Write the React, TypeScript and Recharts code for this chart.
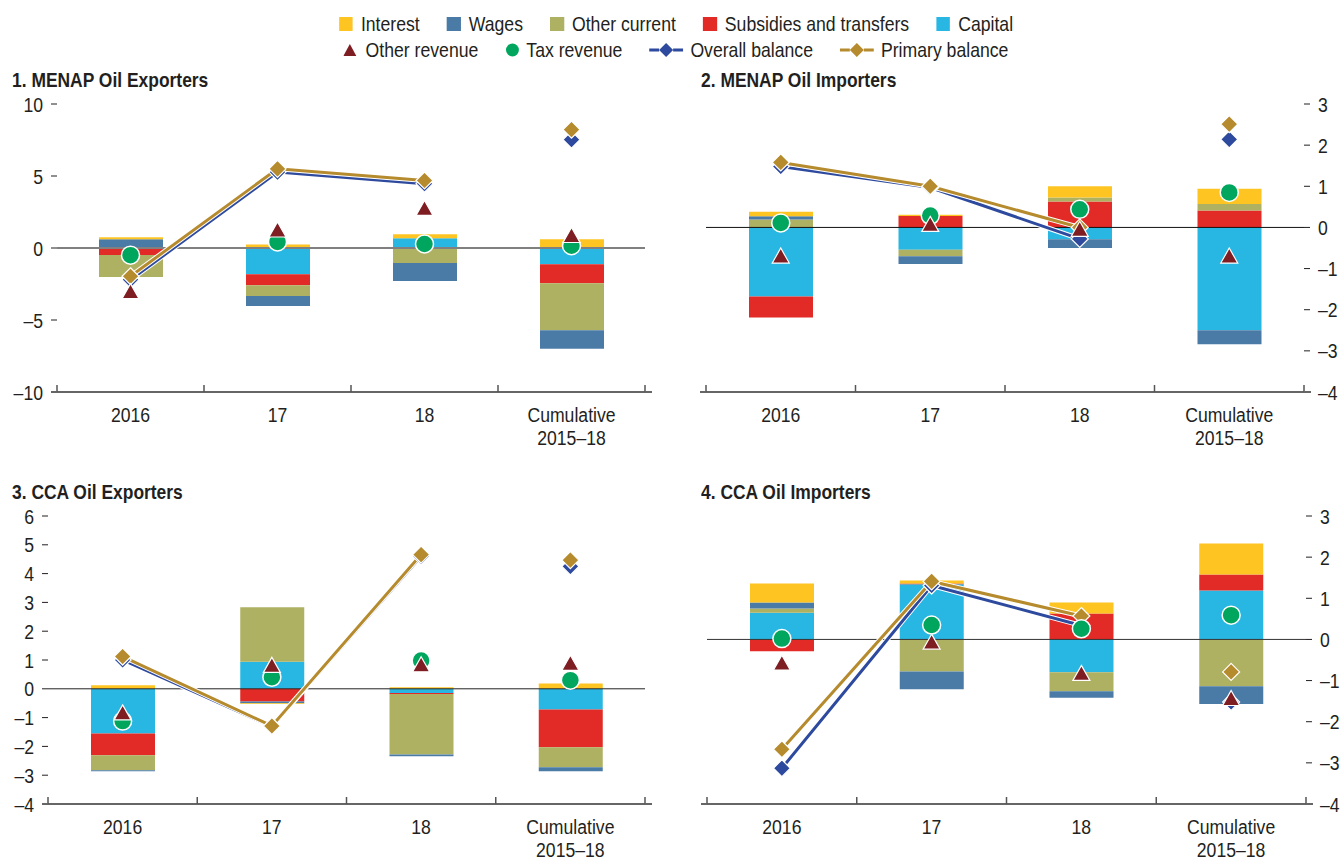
import React from 'react';
import {
  ComposedChart,
  Bar,
  Line,
  XAxis,
  YAxis,
  ReferenceLine,
} from 'recharts';

// the source uses a condensed face; Liberation Sans squeezed horizontally stands in for it
const FONT = '"Liberation Sans", Arial, sans-serif';
const SQUEEZE = 0.84;
const INK = '#231f20';

const COLORS = {
  interest: '#FDC422',
  wages: '#4A7BA7',
  otherCurrent: '#AFB162',
  subsidies: '#E22A26',
  capital: '#28B7E2',
  otherRevenue: '#7E1E23',
  tax: '#00A65D',
  overall: '#2D4A9E',
  primary: '#B68B2E',
};

const CATEGORIES = ['2016', '17', '18', 'Cumulative\n2015–18'];

// 1. MENAP Oil Exporters
const p1Interest = [0.14, 0.25, 0.28, 0.6];
const p1Wages = [0.6, -0.69, -1.25, -1.29];
const p1OtherCurrent = [-1.52, -0.76, -1.0, -3.26];
const p1Subsidies = [-0.49, -0.76, -0.05, -1.32];
const p1Capital = [0, -1.82, 0.67, -1.13];
const p1OtherRevenue = [-3.1, 1.18, 2.68, 0.8];
const p1TaxRevenue = [-0.5, 0.42, 0.28, 0.16];
const p1Overall = [-2.2, 5.27, 4.46, 7.53];
const p1Primary = [-1.96, 5.5, 4.69, 8.22];

// 2. MENAP Oil Importers
const p2Interest = [0.11, 0.03, 0.27, 0.37];
const p2Wages = [0.08, -0.19, -0.21, -0.34];
const p2OtherCurrent = [0.19, -0.16, 0.1, 0.16];
const p2Subsidies = [-0.51, 0.28, 0.63, 0.41];
const p2Capital = [-1.68, -0.54, -0.29, -2.5];
const p2OtherRevenue = [-0.72, 0.05, -0.07, -0.72];
const p2TaxRevenue = [0.11, 0.29, 0.44, 0.85];
const p2Overall = [1.48, 0.97, -0.28, 2.14];
const p2Primary = [1.58, 1.0, 0.0, 2.51];

// 3. CCA Oil Exporters
const p3Interest = [0.12, -0.03, 0.05, 0.18];
const p3Wages = [-0.03, -0.06, -0.06, -0.14];
const p3OtherCurrent = [-0.52, 1.89, -2.1, -0.69];
const p3Subsidies = [-0.76, -0.44, -0.03, -1.31];
const p3Capital = [-1.55, 0.94, -0.15, -0.72];
const p3OtherRevenue = [-0.87, 0.78, 0.8, 0.85];
const p3TaxRevenue = [-1.12, 0.4, 0.98, 0.3];
const p3Overall = [1.0, -1.31, 4.6, 4.25];
const p3Primary = [1.12, -1.29, 4.66, 4.47];

// 4. CCA Oil Importers
const p4Interest = [0.46, 0.07, 0.27, 0.75];
const p4Wages = [0.15, -0.43, -0.16, -0.43];
const p4OtherCurrent = [0.1, -0.78, -0.46, -1.14];
const p4Subsidies = [-0.29, 0.02, 0.63, 0.39];
const p4Capital = [0.65, 1.34, -0.8, 1.19];
const p4OtherRevenue = [-0.6, -0.09, -0.85, -1.46];
const p4TaxRevenue = [0.02, 0.35, 0.26, 0.59];
const p4Overall = [-3.13, 1.31, 0.34, -1.52];
const p4Primary = [-2.67, 1.41, 0.57, -0.79];

const buildRows = (
  interest: number[], wages: number[], otherCurrent: number[], subsidies: number[],
  capital: number[], otherRevenue: number[], tax: number[], overall: number[], primary: number[]
) =>
  CATEGORIES.map((cat, i) => {
    const isCum = i === CATEGORIES.length - 1;
    return {
      cat,
      interest: interest[i],
      wages: wages[i],
      otherCurrent: otherCurrent[i],
      subsidies: subsidies[i],
      capital: capital[i],
      otherRevenue: otherRevenue[i],
      tax: tax[i],
      overall: overall[i],
      primary: primary[i],
      // the lines only join the annual points, not the cumulative one
      overallLine: isCum ? null : overall[i],
      primaryLine: isCum ? null : primary[i],
    };
  });

const fmt = (v: number) => (v < 0 ? `–${Math.abs(v)}` : `${v}`);
const squeezeAt = (x: number) => `translate(${x} 0) scale(${SQUEEZE} 1) translate(${-x} 0)`;

const Diamond = (color: string) => (p: any) => {
  if (p.cx == null || p.cy == null || p.value == null) return <g key={p.index} />;
  const { cx, cy } = p;
  return (
    <path
      key={p.index}
      d={`M${cx},${cy - 8.5} L${cx + 8.5},${cy} L${cx},${cy + 8.5} L${cx - 8.5},${cy} Z`}
      fill={color}
      stroke="#fff"
      strokeWidth={1.2}
    />
  );
};

const Circle = (color: string) => (p: any) => {
  if (p.cx == null || p.cy == null) return <g key={p.index} />;
  return <circle key={p.index} cx={p.cx} cy={p.cy} r={9} fill={color} stroke="#fff" strokeWidth={1.5} />;
};

const Triangle = (color: string) => (p: any) => {
  if (p.cx == null || p.cy == null) return <g key={p.index} />;
  const { cx, cy } = p;
  return (
    <path
      key={p.index}
      d={`M${cx},${cy - 9} L${cx + 8.5},${cy + 6} L${cx - 8.5},${cy + 6} Z`}
      fill={color}
      stroke="#fff"
      strokeWidth={1.2}
    />
  );
};

const CatTick = (props: any) => {
  const { x, y, payload, index } = props;
  const half = payload && payload.offset ? payload.offset : 74;
  const lines = String(payload.value).split('\n');
  const last = index === CATEGORIES.length - 1;
  return (
    <g>
      <line x1={x - half} y1={y} x2={x - half} y2={y - 7} stroke="#555" strokeWidth={1.5} />
      {last && <line x1={x + half} y1={y} x2={x + half} y2={y - 7} stroke="#555" strokeWidth={1.5} />}
      {index === 0 && <line x1={x - half - 6} y1={y} x2={x - half} y2={y} stroke="#666" strokeWidth={2} />}
      {last && <line x1={x + half} y1={y} x2={x + half + 7} y2={y} stroke="#666" strokeWidth={2} />}
      <text x={x} y={y + 30} textAnchor="middle" fill={INK} fontSize={21} fontFamily={FONT} transform={squeezeAt(x)}>
        {lines.map((l, i) => (
          <tspan key={i} x={x} dy={i === 0 ? 0 : 23}>
            {l}
          </tspan>
        ))}
      </text>
    </g>
  );
};

const YTick = (anchor: 'start' | 'end') => (p: any) => (
  <text
    x={p.x}
    y={p.y}
    dy="0.36em"
    textAnchor={anchor}
    fill={INK}
    fontSize={21}
    fontFamily={FONT}
    transform={squeezeAt(p.x)}
  >
    {fmt(p.payload.value)}
  </text>
);

interface PanelProps {
  title: string;
  rows: any[];
  left: number;
  top: number;
  width: number;
  height: number;
  marginTop: number;
  leftW: number;
  rightW: number;
  domain: [number, number];
  ticks: number[];
  labelSide: 'left' | 'right';
  zeroStroke: string;
  zeroWidth: number;
  titleLeft: number;
  titleTop: number;
}

function Panel(props: PanelProps) {
  const { rows, domain, ticks, labelSide } = props;
  return (
    <>
      <div style={{ position: 'absolute', left: props.left, top: props.top }}>
        <ComposedChart
          width={props.width}
          height={props.height}
          data={rows}
          stackOffset="sign"
          margin={{ top: props.marginTop, right: 0, bottom: 0, left: 0 }}
        >
          <XAxis
            dataKey="cat"
            type="category"
            interval={0}
            height={60}
            axisLine={{ stroke: '#666', strokeWidth: 2 }}
            tickLine={false}
            tickSize={0}
            tickMargin={0}
            tick={CatTick}
          />
          <YAxis
            yAxisId="L"
            orientation="left"
            width={props.leftW}
            domain={domain}
            ticks={ticks}
            interval={0}
            allowDataOverflow
            axisLine={false}
            tickLine={{ stroke: INK }}
            tickSize={6}
            tickMargin={8}
            tick={labelSide === 'left' ? YTick('end') : false}
          />
          <YAxis
            yAxisId="R"
            orientation="right"
            width={props.rightW}
            domain={domain}
            ticks={ticks}
            interval={0}
            allowDataOverflow
            axisLine={false}
            tickLine={{ stroke: INK }}
            tickSize={6}
            tickMargin={8}
            tick={labelSide === 'right' ? YTick('start') : false}
          />
          <Bar yAxisId="L" dataKey="capital" stackId="s" fill={COLORS.capital} barSize={64} isAnimationActive={false} />
          <Bar yAxisId="L" dataKey="subsidies" stackId="s" fill={COLORS.subsidies} barSize={64} isAnimationActive={false} />
          <Bar yAxisId="L" dataKey="otherCurrent" stackId="s" fill={COLORS.otherCurrent} barSize={64} isAnimationActive={false} />
          <Bar yAxisId="L" dataKey="wages" stackId="s" fill={COLORS.wages} barSize={64} isAnimationActive={false} />
          <Bar yAxisId="L" dataKey="interest" stackId="s" fill={COLORS.interest} barSize={64} isAnimationActive={false} />
          <ReferenceLine yAxisId="L" y={0} stroke={props.zeroStroke} strokeWidth={props.zeroWidth} />
          <Line yAxisId="L" dataKey="overallLine" stroke="#fff" strokeWidth={5} dot={false} activeDot={false} isAnimationActive={false} />
          <Line yAxisId="L" dataKey="overallLine" stroke={COLORS.overall} strokeWidth={3} dot={false} activeDot={false} isAnimationActive={false} />
          <Line yAxisId="L" dataKey="primaryLine" stroke="#fff" strokeWidth={5} dot={false} activeDot={false} isAnimationActive={false} />
          <Line yAxisId="L" dataKey="primaryLine" stroke={COLORS.primary} strokeWidth={3} dot={false} activeDot={false} isAnimationActive={false} />
          <Line yAxisId="L" dataKey="overall" stroke="none" dot={Diamond(COLORS.overall)} activeDot={false} isAnimationActive={false} />
          <Line yAxisId="L" dataKey="primary" stroke="none" dot={Diamond(COLORS.primary)} activeDot={false} isAnimationActive={false} />
          <Line yAxisId="L" dataKey="tax" stroke="none" dot={Circle(COLORS.tax)} activeDot={false} isAnimationActive={false} />
          <Line yAxisId="L" dataKey="otherRevenue" stroke="none" dot={Triangle(COLORS.otherRevenue)} activeDot={false} isAnimationActive={false} />
        </ComposedChart>
      </div>
      <div
        style={{
          position: 'absolute',
          left: props.titleLeft,
          top: props.titleTop,
          fontFamily: FONT,
          fontWeight: 'bold',
          fontSize: 21,
          lineHeight: '24px',
          color: INK,
          whiteSpace: 'nowrap',
          transform: 'scaleX(0.83)',
          transformOrigin: '0 0',
        }}
      >
        {props.title}
      </div>
    </>
  );
}

// legend rows are squeezed as a whole, so widths here are pre-stretched by 1/SQUEEZE
const S = (v: number) => v / SQUEEZE;

const LegendSquare = ({ color }: { color: string }) => (
  <span style={{ display: 'inline-block', width: S(14), height: 14, background: color, marginRight: S(8) }} />
);

const LegendSymbol = ({ kind, color }: { kind: string; color: string }) => {
  if (kind === 'triangle')
    return (
      <svg width={S(13)} height={12} viewBox="0 0 13 12" preserveAspectRatio="none" style={{ marginRight: S(9) }}>
        <path d="M6.5,0 L13,12 L0,12 Z" fill={color} />
      </svg>
    );
  if (kind === 'circle')
    return (
      <svg width={S(14)} height={14} viewBox="0 0 14 14" preserveAspectRatio="none" style={{ marginRight: S(7) }}>
        <circle cx={7} cy={7} r={6.5} fill={color} />
      </svg>
    );
  return (
    <svg width={S(34)} height={16} viewBox="0 0 34 16" preserveAspectRatio="none" style={{ marginRight: S(7) }}>
      <line x1={0} y1={8} x2={10} y2={8} stroke={color} strokeWidth={3} />
      <line x1={24} y1={8} x2={34} y2={8} stroke={color} strokeWidth={3} />
      <path d="M17,1 L24,8 L17,15 L10,8 Z" fill={color} />
    </svg>
  );
};

const legendRow1 = [
  { label: 'Interest', color: COLORS.interest },
  { label: 'Wages', color: COLORS.wages },
  { label: 'Other current', color: COLORS.otherCurrent },
  { label: 'Subsidies and transfers', color: COLORS.subsidies },
  { label: 'Capital', color: COLORS.capital },
];

const legendRow2 = [
  { label: 'Other revenue', color: COLORS.otherRevenue, kind: 'triangle' },
  { label: 'Tax revenue', color: COLORS.tax, kind: 'circle' },
  { label: 'Overall balance', color: COLORS.overall, kind: 'line' },
  { label: 'Primary balance', color: COLORS.primary, kind: 'line' },
];

const rowStyle: React.CSSProperties = {
  position: 'absolute',
  left: 0,
  width: 1352,
  display: 'flex',
  justifyContent: 'center',
  alignItems: 'center',
  gap: S(27),
  fontFamily: FONT,
  fontSize: 21,
  color: INK,
  lineHeight: '24px',
  whiteSpace: 'nowrap',
  transform: `scaleX(${SQUEEZE})`,
  transformOrigin: '676px 0',
};

export default function App() {
  return (
    <div style={{ position: 'absolute', left: 0, top: 0, width: 1341, height: 861, background: '#fff', overflow: 'hidden' }}>
      <div style={{ ...rowStyle, top: 12 }}>
        {legendRow1.map((it) => (
          <span key={it.label} style={{ display: 'flex', alignItems: 'center' }}>
            <LegendSquare color={it.color} />
            {it.label}
          </span>
        ))}
      </div>
      <div style={{ ...rowStyle, top: 38 }}>
        {legendRow2.map((it) => (
          <span key={it.label} style={{ display: 'flex', alignItems: 'center' }}>
            <LegendSymbol kind={it.kind} color={it.color} />
            {it.label}
          </span>
        ))}
      </div>

      <Panel
        title="1. MENAP Oil Exporters"
        rows={buildRows(p1Interest, p1Wages, p1OtherCurrent, p1Subsidies, p1Capital, p1OtherRevenue, p1TaxRevenue, p1Overall, p1Primary)}
        left={0} top={86} width={657} height={366} marginTop={18}
        leftW={57} rightW={12}
        domain={[-10, 10]} ticks={[-10, -5, 0, 5, 10]} labelSide="left"
        zeroStroke="#808080" zeroWidth={2}
        titleLeft={12} titleTop={68}
      />
      <Panel
        title="2. MENAP Oil Importers"
        rows={buildRows(p2Interest, p2Wages, p2OtherCurrent, p2Subsidies, p2Capital, p2OtherRevenue, p2TaxRevenue, p2Overall, p2Primary)}
        left={690} top={86} width={651} height={366} marginTop={18}
        leftW={16} rightW={37}
        domain={[-4, 3]} ticks={[-4, -3, -2, -1, 0, 1, 2, 3]} labelSide="right"
        zeroStroke="#111" zeroWidth={1}
        titleLeft={701} titleTop={68}
      />
      <Panel
        title="3. CCA Oil Exporters"
        rows={buildRows(p3Interest, p3Wages, p3OtherCurrent, p3Subsidies, p3Capital, p3OtherRevenue, p3TaxRevenue, p3Overall, p3Primary)}
        left={0} top={497} width={657} height={367} marginTop={19}
        leftW={48} rightW={12}
        domain={[-4, 6]} ticks={[-4, -3, -2, -1, 0, 1, 2, 3, 4, 5, 6]} labelSide="left"
        zeroStroke="#222" zeroWidth={1}
        titleLeft={12} titleTop={480}
      />
      <Panel
        title="4. CCA Oil Importers"
        rows={buildRows(p4Interest, p4Wages, p4OtherCurrent, p4Subsidies, p4Capital, p4OtherRevenue, p4TaxRevenue, p4Overall, p4Primary)}
        left={690} top={497} width={651} height={367} marginTop={19}
        leftW={17} rightW={35}
        domain={[-4, 3]} ticks={[-4, -3, -2, -1, 0, 1, 2, 3]} labelSide="right"
        zeroStroke="#333" zeroWidth={1}
        titleLeft={701} titleTop={480}
      />
    </div>
  );
}
